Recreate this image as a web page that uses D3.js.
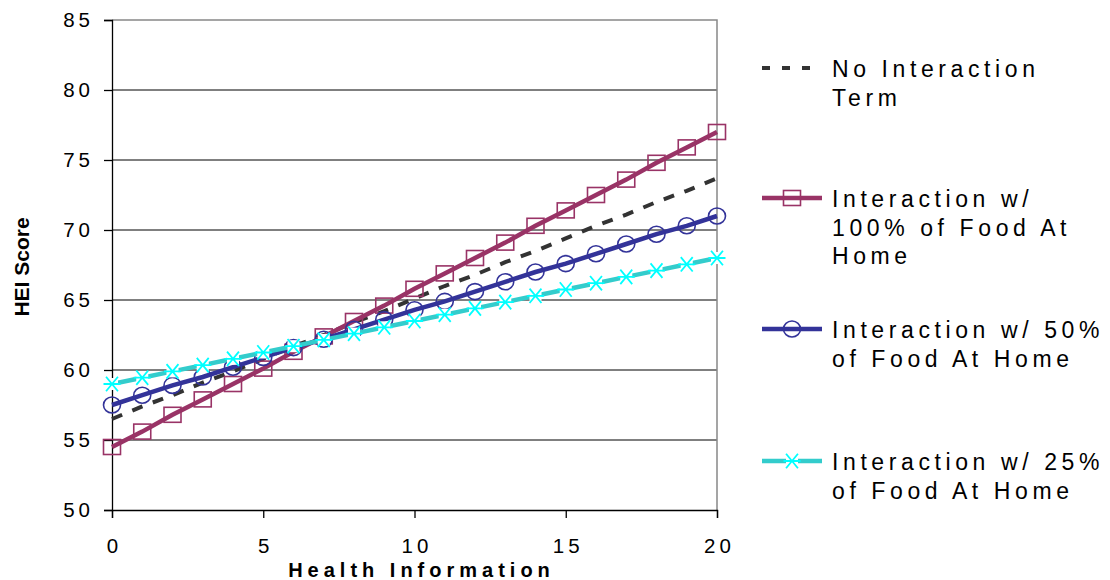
<!DOCTYPE html>
<html>
<head>
<meta charset="utf-8">
<script src="https://cdn.jsdelivr.net/npm/d3@7"></script>
<style>
  body { margin: 0; background: #fff; }
  text { font-family: "Liberation Sans", Arial, sans-serif; }
  .tick-label { font-size: 20.5px; letter-spacing: 4px; fill: #000; }
  .axis-title { font-size: 20px; font-weight: bold; fill: #000; }
  .legend-text { font-size: 23px; letter-spacing: 4.6px; fill: #000; }
</style>
</head>
<body>
<svg id="chart"></svg>
<script>
// data
const healthInfo = d3.range(0, 21)
const noInteraction = [56.5, 57.4, 58.2, 59.1, 59.9, 60.8, 61.7, 62.5, 63.4, 64.2, 65.1, 66.0, 66.8, 67.7, 68.5, 69.4, 70.3, 71.1, 72.0, 72.8, 73.7]
const food100 = [54.5, 55.6, 56.8, 57.9, 59.0, 60.1, 61.3, 62.4, 63.5, 64.6, 65.8, 66.9, 68.0, 69.1, 70.3, 71.4, 72.5, 73.6, 74.8, 75.9, 77.0]
const food50 = [57.5, 58.2, 58.9, 59.5, 60.2, 60.9, 61.6, 62.2, 62.9, 63.6, 64.3, 64.9, 65.6, 66.3, 67.0, 67.6, 68.3, 69.0, 69.7, 70.3, 71.0]
const food25 = [59.0, 59.45, 59.9, 60.35, 60.8, 61.25, 61.7, 62.15, 62.6, 63.05, 63.5, 63.95, 64.4, 64.85, 65.3, 65.75, 66.2, 66.65, 67.1, 67.55, 68.0]
const xTicks = [0, 5, 10, 15, 20]
const yTicks = [50, 55, 60, 65, 70, 75, 80, 85]

const seriesNames = [
    ['No Interaction', 'Term'],
    ['Interaction w/', '100% of Food At', 'Home'],
    ['Interaction w/ 50%', 'of Food At Home'],
    ['Interaction w/ 25%', 'of Food At Home']
]

const series = [
    {values: noInteraction, line: '#333333', width: 4, dash: '11,11', marker: null},
    {values: food100, line: '#993366', width: 4.5, marker: 'square', markerColor: '#993366'},
    {values: food50, line: '#333399', width: 4.5, marker: 'circle', markerColor: '#333399'},
    {values: food25, line: '#33CCCC', width: 4.5, marker: 'star', markerColor: '#00FFFF'}
]

const width = 1110, height = 580
const margin = {top: 20, right: 393, bottom: 70, left: 112}
const innerW = width - margin.left - margin.right
const innerH = height - margin.top - margin.bottom

const svg = d3.select('#chart')
    .attr('width', width)
    .attr('height', height)

const chart = svg.append('g')
    .attr('transform', `translate(${margin.left},${margin.top})`)

const xScale = d3.scaleLinear().domain([0, 20]).range([0, innerW])
const yScale = d3.scaleLinear().domain([50, 85]).range([innerH, 0])

// gridlines
chart.selectAll('.grid')
    .data(yTicks.filter(d => d > 50 && d < 85))
    .join('line')
    .attr('x1', 0).attr('x2', innerW)
    .attr('y1', d => yScale(d)).attr('y2', d => yScale(d))
    .attr('stroke', '#000').attr('stroke-width', 1)

// plot border (top / right grey)
chart.append('path')
    .attr('d', `M0,${yScale(85)}H${innerW}V${innerH}`)
    .attr('fill', 'none').attr('stroke', '#888').attr('stroke-width', 1.5)

const yAxis = d3.axisLeft(yScale).tickValues(yTicks).tickSize(8).tickPadding(10)
const xAxis = d3.axisBottom(xScale).tickValues(xTicks).tickSize(8).tickPadding(20)

const yAxisG = chart.append('g').call(yAxis)
const xAxisG = chart.append('g').attr('transform', `translate(0,${innerH})`).call(xAxis)

for (const g of [xAxisG, yAxisG]) {
    g.attr('font-size', null).attr('font-family', null)
    g.select('.domain').attr('stroke', '#000').attr('stroke-width', 1.3)
    g.selectAll('.tick line').attr('stroke', '#000').attr('stroke-width', 1.3)
    g.selectAll('.tick text').attr('class', 'tick-label')
}
// compensate trailing letter-spacing on x labels
xAxisG.selectAll('.tick text').attr('dx', 2)

chart.append('text')
    .attr('class', 'axis-title')
    .attr('x', innerW / 2 + 7)
    .attr('y', innerH + 67)
    .attr('text-anchor', 'middle')
    .style('letter-spacing', '5px')
    .text('Health Information')

svg.append('text')
    .attr('class', 'axis-title')
    .attr('transform', `translate(29,${margin.top + innerH / 2 + 2}) rotate(-90)`)
    .attr('text-anchor', 'middle')
    .style('font-size', '21px')
    .text('HEI Score')

const line = d3.line()
    .x((d, i) => xScale(healthInfo[i]))
    .y(d => yScale(d))

function drawMarker(g, type, color, x, y) {
    if (type === 'square') {
        g.append('rect')
            .attr('x', x - 8.5).attr('y', y - 7.5)
            .attr('width', 17).attr('height', 15)
            .attr('fill', 'none').attr('stroke', color).attr('stroke-width', 1.6)
    } else if (type === 'circle') {
        g.append('ellipse')
            .attr('cx', x).attr('cy', y).attr('rx', 8.5).attr('ry', 8)
            .attr('fill', 'none').attr('stroke', color).attr('stroke-width', 1.6)
    } else if (type === 'star') {
        g.append('rect')
            .attr('x', x - 6).attr('y', y - 6).attr('width', 12).attr('height', 12)
            .attr('fill', '#fff')
        const r = 8.5
        g.append('path')
            .attr('d', `M${x - r},${y}H${x + r}M${x - r * 0.7},${y - r * 0.85}L${x + r * 0.7},${y + r * 0.85}M${x - r * 0.7},${y + r * 0.85}L${x + r * 0.7},${y - r * 0.85}`)
            .attr('stroke', color).attr('stroke-width', 1.8).attr('fill', 'none')
    }
}

series.forEach(s => {
    const g = chart.append('g')
    g.append('path')
        .datum(s.values)
        .attr('d', line)
        .attr('fill', 'none')
        .attr('stroke', s.line)
        .attr('stroke-width', s.width)
        .attr('stroke-dasharray', s.dash || null)
    if (s.marker) {
        const mg = chart.append('g')
        s.values.forEach((v, i) => drawMarker(mg, s.marker, s.markerColor, xScale(healthInfo[i]), yScale(v)))
    }
})

// legend
const legendY = [68, 198, 329, 461]
const legend = svg.append('g')
series.forEach((s, k) => {
    const y = legendY[k]
    legend.append('line')
        .attr('x1', 762).attr('x2', 822)
        .attr('y1', y).attr('y2', y)
        .attr('stroke', s.line).attr('stroke-width', s.width)
        .attr('stroke-dasharray', s.dash ? '8,12' : null)
    if (s.marker) drawMarker(legend, s.marker, s.markerColor, 792, y)
    const t = legend.append('text')
        .attr('class', 'legend-text')
        .attr('x', 832)
        .attr('y', y + 9)
    seriesNames[k].forEach((txt, j) => {
        t.append('tspan').attr('x', 832).attr('dy', j === 0 ? 0 : 28.5).text(txt)
    })
})
</script>
</body>
</html>
